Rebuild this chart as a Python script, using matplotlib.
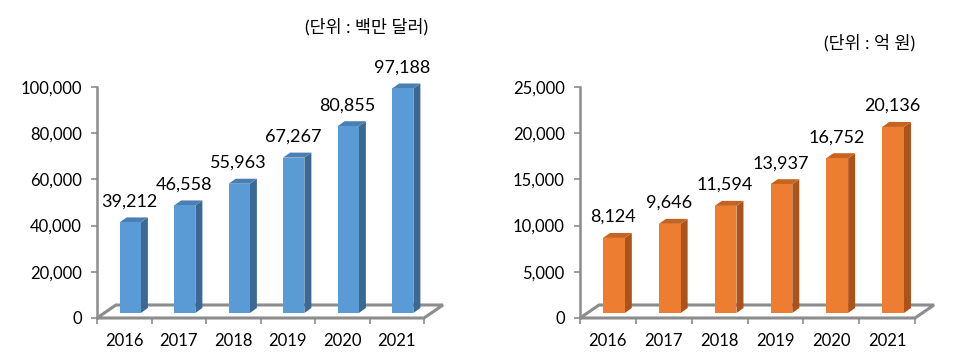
import matplotlib
matplotlib.use("Agg")
import matplotlib.pyplot as plt
from matplotlib.patches import Polygon
from matplotlib.ticker import FuncFormatter, MultipleLocator, FixedLocator

plt.rcParams['font.family'] = ['Lato', 'Noto Sans CJK KR', 'DejaVu Sans']

# data
years = ['2016', '2017', '2018', '2019', '2020', '2021']
export_musd = [39212, 46558, 55963, 67267, 80855, 97188]   # 백만 달러
sales_krw = [8124, 9646, 11594, 13937, 16752, 20136]       # 억 원

DPI = 100
GRAY = '#8c8c8c'
BAR_W = 0.39
SHIFT = (6, 5)      # front face offset from the floor front edge (px)
DEPTH = (7, 5)      # bar depth (px)
FLOOR = (19, 13)    # floor depth (px)


def to_data(ax, x, y, dx=0, dy=0):
    """data point moved by (dx, dy) display pixels, back in data coords"""
    px, py = ax.transData.transform((x, y))
    return ax.transData.inverted().transform((px + dx, py + dy))


def draw_3d_bars(ax, values, colors, ymax, step):
    n = len(values)
    ax.set_xlim(-0.5, n - 0.5)
    ax.set_ylim(0, ymax)

    # floor
    x0, x1 = -0.5, n - 0.5
    floor = [to_data(ax, x0, 0), to_data(ax, x1, 0),
             to_data(ax, x1, 0, *FLOOR), to_data(ax, x0, 0, *FLOOR)]
    ax.add_patch(Polygon(floor, closed=True, facecolor='white',
                         edgecolor=GRAY, lw=2.2, clip_on=False, zorder=1))

    front_c, side_c, top_c = colors
    sx, sy = SHIFT
    dx, dy = DEPTH
    for i, v in enumerate(values):
        l, r = i - BAR_W / 2, i + BAR_W / 2
        fl_b = to_data(ax, l, 0, sx, sy)
        fr_b = to_data(ax, r, 0, sx, sy)
        fr_t = to_data(ax, r, v, sx, sy)
        fl_t = to_data(ax, l, v, sx, sy)
        front = [fl_b, fr_b, fr_t, fl_t]
        side = [fr_b, to_data(ax, r, 0, sx + dx, sy + dy),
                to_data(ax, r, v, sx + dx, sy + dy), fr_t]
        top = [fl_t, fr_t, to_data(ax, r, v, sx + dx, sy + dy),
               to_data(ax, l, v, sx + dx, sy + dy)]
        for pts, c in ((side, side_c), (top, top_c), (front, front_c)):
            ax.add_patch(Polygon(pts, closed=True, facecolor=c,
                                 edgecolor='none', clip_on=False, zorder=3))
        ax.annotate(f'{v:,}', xy=(i, v), xytext=(5, 21),
                    textcoords='offset pixels', ha='center', va='baseline',
                    fontsize=13, color='black', annotation_clip=False)

    ax.yaxis.set_major_locator(MultipleLocator(step))
    ax.yaxis.set_major_formatter(FuncFormatter(lambda y, p: f'{int(y):,}'))
    ax.set_xticks(range(n))
    ax.set_xticklabels(years)
    ax.xaxis.set_minor_locator(FixedLocator([k - 0.5 for k in range(n + 1)]))
    ax.tick_params(axis='x', which='major', length=0, pad=11, labelsize=12)
    ax.tick_params(axis='x', which='minor', length=4.5, width=1.2, color=GRAY)
    ax.tick_params(axis='y', length=4, width=1.2, color=GRAY, pad=7,
                   labelsize=12)
    for s in ('top', 'right', 'bottom'):
        ax.spines[s].set_visible(False)
    ax.spines['left'].set_color(GRAY)
    ax.spines['left'].set_linewidth(1.8)
    ax.patch.set_alpha(0)


W, H = 959, 363
fig = plt.figure(figsize=(W / DPI, H / DPI), dpi=DPI)

ax1 = fig.add_axes([97 / W, (H - 318) / H, (424 - 97) / W, 231 / H])
ax2 = fig.add_axes([580 / W, (H - 318) / H, (915 - 580) / W, 231 / H])

draw_3d_bars(ax1, export_musd, ('#5b9bd5', '#3c6894', '#4a7fb4'), 100000, 20000)
draw_3d_bars(ax2, sales_krw, ('#ed7d31', '#ad531a', '#c5641f'), 25000, 5000)

fig.text(428 / W, 1 - 27 / H, '(단위 : 백만 달러)', ha='right', va='center',
         fontsize=12.5)
fig.text(915 / W, 1 - 43 / H, '(단위 : 억 원)', ha='right', va='center',
         fontsize=12.5)

fig.savefig('out.png', dpi=DPI)
